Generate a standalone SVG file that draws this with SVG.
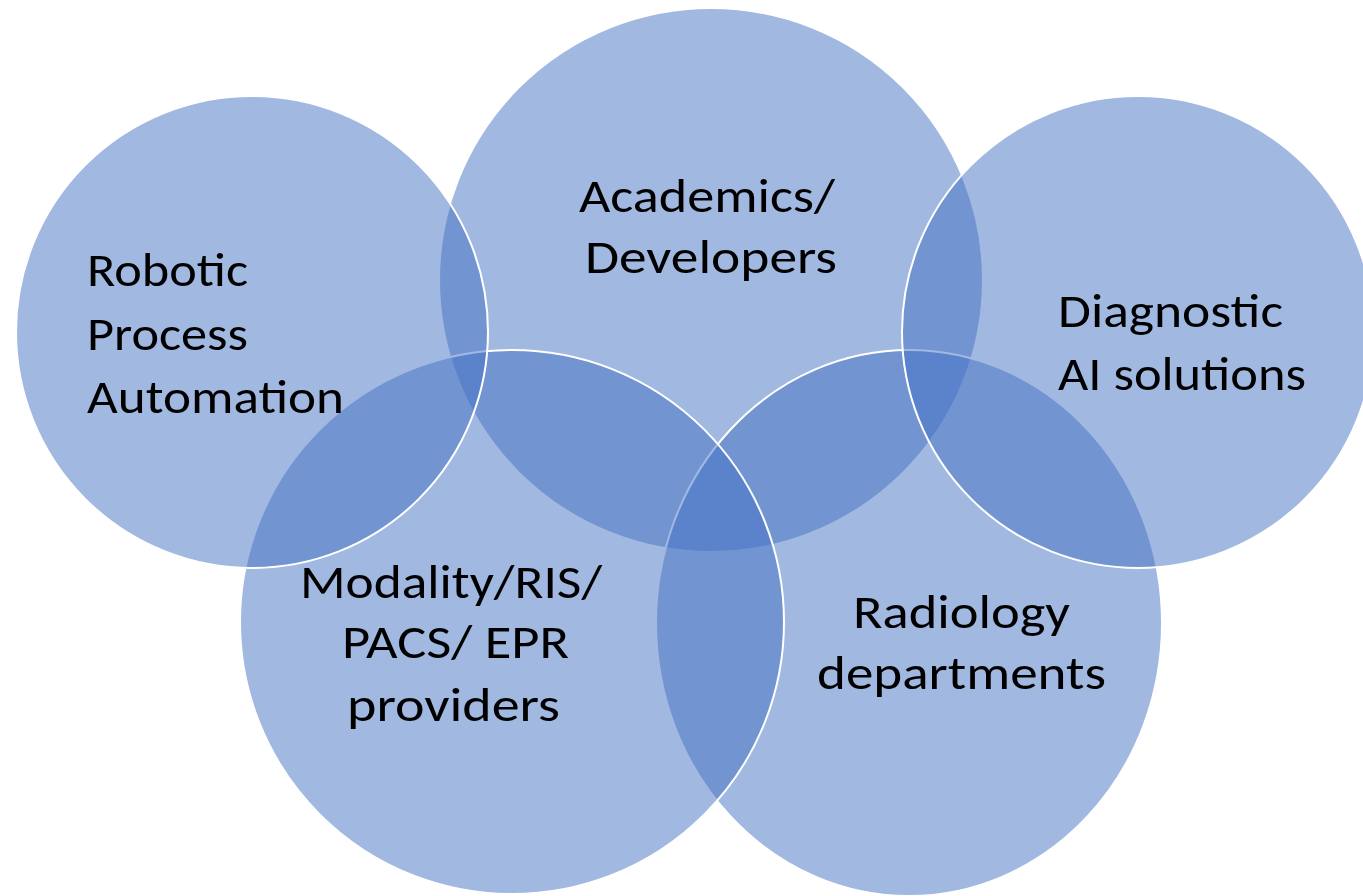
<svg xmlns="http://www.w3.org/2000/svg" width="1363" height="896" viewBox="0 0 1363 896">
<style>
.c{fill:#4472C4;fill-opacity:0.5;stroke:#FFFFFF;stroke-width:2}
.t{font-family:Carlito,Lato,"Liberation Sans",sans-serif;font-size:47px;fill:#000000}
</style>
<rect width="1363" height="896" fill="#FFFFFF"/>
<g id="academics">
<circle class="c" cx="711" cy="280" r="272"/>
</g>
<g id="radiology">
<ellipse class="c" cx="909" cy="623" rx="253" ry="273"/>
</g>
<g id="modality">
<circle class="c" cx="512" cy="622" r="272"/>
</g>
<g id="robotic">
<circle class="c" cx="252" cy="332" r="236"/>
</g>
<g id="diagnostic">
<circle class="c" cx="1138" cy="332" r="236"/>
</g>
<g id="connectors"></g>
<g id="labels">
<text class="t" x="87" y="286" textLength="161" lengthAdjust="spacingAndGlyphs">Robotic</text>
<text class="t" x="87" y="350" textLength="161" lengthAdjust="spacingAndGlyphs">Process</text>
<text class="t" x="87" y="413" textLength="257" lengthAdjust="spacingAndGlyphs">Automation</text>
<text class="t" x="579" y="212" textLength="256" lengthAdjust="spacingAndGlyphs">Academics/</text>
<text class="t" x="585" y="273" textLength="252" lengthAdjust="spacingAndGlyphs">Developers</text>
<text class="t" x="1058" y="327" textLength="225" lengthAdjust="spacingAndGlyphs">Diagnostic</text>
<text class="t" x="1058" y="390" textLength="248" lengthAdjust="spacingAndGlyphs">AI solutions</text>
<text class="t" x="300" y="598" textLength="302" lengthAdjust="spacingAndGlyphs">Modality/RIS/</text>
<text class="t" x="342" y="658" textLength="227" lengthAdjust="spacingAndGlyphs">PACS/ EPR</text>
<text class="t" x="347" y="721" textLength="213" lengthAdjust="spacingAndGlyphs">providers</text>
<text class="t" x="853" y="628" textLength="217" lengthAdjust="spacingAndGlyphs">Radiology</text>
<text class="t" x="817" y="689" textLength="289" lengthAdjust="spacingAndGlyphs">departments</text>
</g>
</svg>
